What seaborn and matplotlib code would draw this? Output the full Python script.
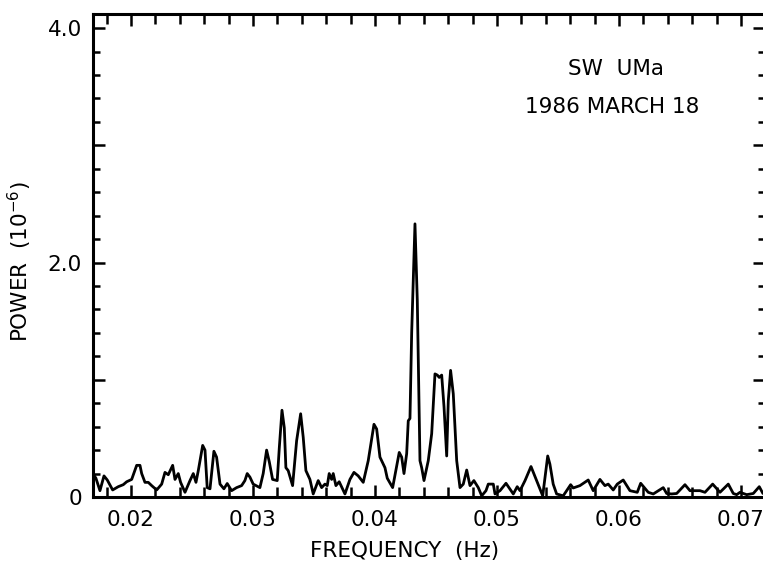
import numpy as np
import pandas as pd
import matplotlib
matplotlib.use('Agg')
import matplotlib.pyplot as plt
import seaborn as sns
from matplotlib.ticker import MultipleLocator, FixedLocator, FuncFormatter

#power spectrum of SW UMa
freq = [0.01689, 0.01713, 0.01746, 0.01779, 0.01806, 0.01850, 0.01896, 0.01937, 0.01965, 0.02006,
        0.02047, 0.02074, 0.02088, 0.02115, 0.02142, 0.02170, 0.02211, 0.02252, 0.02279, 0.02306,
        0.02342, 0.02361, 0.02388, 0.02407, 0.02443, 0.02484, 0.02511, 0.02533, 0.02552, 0.02588,
        0.02607, 0.02625, 0.02648, 0.02680, 0.02702, 0.02730, 0.02762, 0.02789, 0.02825, 0.02866,
        0.02907, 0.02934, 0.02953, 0.02975, 0.03002, 0.03057, 0.03084, 0.03112, 0.03134, 0.03161,
        0.03199, 0.03216, 0.03238, 0.03257, 0.03270, 0.03289, 0.03325, 0.03358, 0.03391, 0.03412,
        0.03434, 0.03467, 0.03494, 0.03535, 0.03563, 0.03590, 0.03609, 0.03625, 0.03645, 0.03658,
        0.03680, 0.03707, 0.03754, 0.03795, 0.03828, 0.03863, 0.03904, 0.03945, 0.03992, 0.04014,
        0.04041, 0.04082, 0.04101, 0.04145, 0.04199, 0.04219, 0.04238, 0.04260, 0.04273, 0.04287,
        0.04301, 0.04328, 0.04347, 0.04369, 0.04383, 0.04402, 0.04437, 0.04465, 0.04492, 0.04511,
        0.04527, 0.04547, 0.04566, 0.04588, 0.04601, 0.04620, 0.04642, 0.04670, 0.04697, 0.04724,
        0.04752, 0.04779, 0.04811, 0.04847, 0.04875, 0.04910, 0.04929, 0.04970, 0.04984, 0.05025,
        0.05074, 0.05134, 0.05166, 0.05189, 0.05230, 0.05279, 0.05325, 0.05375, 0.05416, 0.05434,
        0.05461, 0.05489, 0.05543, 0.05571, 0.05604, 0.05625, 0.05680, 0.05748, 0.05789, 0.05844,
        0.05885, 0.05912, 0.05953, 0.05986, 0.06035, 0.06090, 0.06150, 0.06178, 0.06240, 0.06281,
        0.06363, 0.06391, 0.06432, 0.06473, 0.06541, 0.06582, 0.06664, 0.06705, 0.06768, 0.06828,
        0.06896, 0.06937, 0.06965, 0.06992, 0.07047, 0.07101, 0.07150, 0.07180]

power = [0.20, 0.16, 0.054, 0.18, 0.145, 0.06, 0.088, 0.105, 0.13, 0.15,
         0.27, 0.27, 0.20, 0.125, 0.125, 0.097, 0.06, 0.11, 0.21, 0.19,
         0.27, 0.15, 0.20, 0.125, 0.04, 0.14, 0.20, 0.125, 0.225, 0.44,
         0.40, 0.08, 0.07, 0.39, 0.34, 0.11, 0.07, 0.115, 0.054, 0.08,
         0.097, 0.14, 0.20, 0.17, 0.11, 0.08, 0.20, 0.40, 0.30, 0.15,
         0.14, 0.42, 0.74, 0.59, 0.25, 0.225, 0.097, 0.48, 0.71, 0.51,
         0.225, 0.15, 0.026, 0.14, 0.08, 0.11, 0.097, 0.20, 0.15, 0.20,
         0.097, 0.13, 0.026, 0.15, 0.21, 0.18, 0.125, 0.31, 0.62, 0.58,
         0.34, 0.25, 0.16, 0.08, 0.38, 0.34, 0.20, 0.37, 0.65, 0.67,
         1.40, 2.33, 1.68, 0.31, 0.25, 0.14, 0.31, 0.54, 1.05, 1.04,
         1.02, 1.04, 0.77, 0.35, 0.82, 1.08, 0.88, 0.31, 0.08, 0.11,
         0.23, 0.097, 0.14, 0.08, 0.01, 0.054, 0.11, 0.11, 0.026, 0.054,
         0.117, 0.026, 0.088, 0.054, 0.14, 0.26, 0.14, 0.01, 0.35, 0.28,
         0.11, 0.026, 0.01, 0.054, 0.105, 0.077, 0.097, 0.145, 0.054, 0.15,
         0.097, 0.11, 0.06, 0.11, 0.145, 0.054, 0.04, 0.117, 0.04, 0.026,
         0.08, 0.03, 0.026, 0.03, 0.105, 0.054, 0.054, 0.04, 0.11, 0.04,
         0.11, 0.03, 0.02, 0.04, 0.02, 0.03, 0.088, 0.03]

x_ticks = [0.02, 0.03, 0.04, 0.05, 0.06, 0.07]
y_labels = {0: '0', 2: '2.0', 4: '4.0'}

df = pd.DataFrame({'FREQ': freq, 'POWER': power})

sns.set_style('ticks')
plt.rcParams['font.family'] = ['DejaVu Sans']
plt.rcParams['text.color'] = 'black'
plt.rcParams['axes.labelcolor'] = 'black'
plt.rcParams['xtick.color'] = 'black'
plt.rcParams['ytick.color'] = 'black'

fig = plt.figure(figsize=(7.63, 5.61), dpi=100)
ax = fig.add_axes([93 / 763, 64 / 561, 672 / 763, 483 / 561])

sns.lineplot(data=df, x='FREQ', y='POWER', ax=ax, color='black', lw=2.0)

ax.set_xlim(0.01689, 0.07197)
ax.set_ylim(0, 4.12)

#ticks on all four sides, pointing inward
ax.xaxis.set_major_locator(FixedLocator(x_ticks))
ax.xaxis.set_major_formatter(FuncFormatter(lambda v, p: '%.2f' % v))
ax.xaxis.set_minor_locator(MultipleLocator(0.002))
ax.yaxis.set_major_locator(MultipleLocator(1.0))
ax.yaxis.set_major_formatter(FuncFormatter(lambda v, p: y_labels.get(int(round(v)), '')))
ax.yaxis.set_minor_locator(MultipleLocator(0.2))
ax.tick_params(which='both', direction='in', top=True, right=True, width=1.8, colors='black')
ax.tick_params(axis='x', which='major', length=8.5, labelsize=15.5, pad=9)
ax.tick_params(axis='x', which='minor', length=7.5)
ax.tick_params(axis='y', which='major', length=8.5, labelsize=15.5, pad=8)
ax.tick_params(axis='y', which='minor', length=5)

for s in ax.spines.values():
    s.set_linewidth(2.2)
    s.set_color('black')

ax.set_xlabel('FREQUENCY  (Hz)', fontsize=15.5, va='center', color='black')
ax.xaxis.set_label_coords(0.464, -0.112)
ax.set_ylabel('POWER  (10$^{-6}$)', fontsize=15.5, va='center', color='black')
ax.yaxis.set_label_coords(-0.109, 0.487)

ax.text(0.778, 0.886, 'SW  UMa', transform=ax.transAxes, ha='center', va='center',
        fontsize=15.5, color='black')
ax.text(0.772, 0.807, '1986 MARCH 18', transform=ax.transAxes, ha='center', va='center',
        fontsize=15.5, color='black')

plt.savefig('out.png', dpi=100)
